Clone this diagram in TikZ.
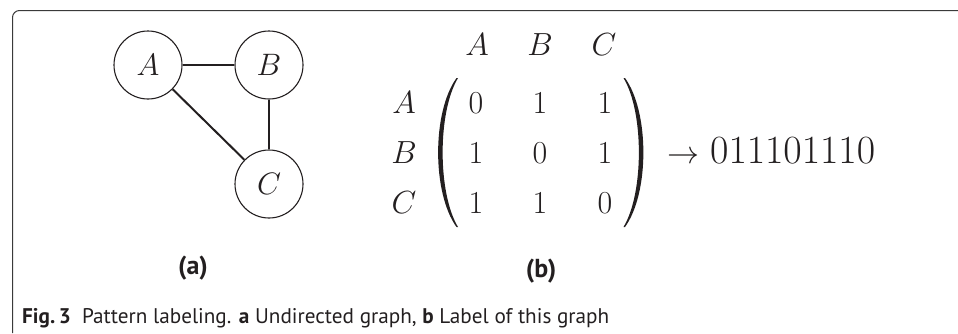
\documentclass[tikz,border=0pt]{standalone}
\usepackage{fix-cm}
\usepackage{fontspec}
\newfontfamily\capfont{PT Sans}
\definecolor{ink}{HTML}{231F20}
\definecolor{framegray}{HTML}{3A3A3A}
\tikzset{
  vertex/.style={circle, draw=ink, line width=1.1pt, minimum size=68pt, inner sep=0pt, font=\fontsize{31}{37}\selectfont, text=ink},
  edge/.style={draw=ink, line width=2pt},
  mat/.style={anchor=base, inner sep=0pt, text=ink, font=\fontsize{32}{38}\selectfont},
  parenfill/.style={fill=ink, draw=none},
  sublabel/.style={inner sep=0pt, text=ink, font=\capfont\bfseries\fontsize{26}{30}\selectfont},
  caption/.style={anchor=base west, inner sep=0pt, text=ink, font=\capfont\fontsize{21.2}{25}\selectfont},
  frameline/.style={draw=framegray, line width=1pt, rounded corners=7pt}
}
\begin{document}
\begin{tikzpicture}[x=1pt,y=-1pt]
\useasboundingbox (0,0) rectangle (958,333);
% frame
\coordinate (fr1) at (958,10.5);
\coordinate (fr2) at (12.5,10.5);
\coordinate (fr3) at (12.5,333);
\draw[frameline] (fr1) -- (fr2) -- (fr3);
% graph (a)
\node[vertex] (A) at (148,65) {$A$};
\node[vertex] (B) at (269,65) {$B$};
\node[vertex] (C) at (269,184) {$C$};
\draw[edge] (A) -- (B);
\draw[edge] (B) -- (C);
\draw[edge] (A) -- (C);
\node[sublabel] (la) at (193,268) {(a)};
% matrix (b)
\node[mat] (hA) at (477,55) {$A$};
\node[mat] (hB) at (540,55) {$B$};
\node[mat] (hC) at (604,55) {$C$};
\node[mat] (rA) at (404,113) {$A$};
\node[mat] (rB) at (404,163) {$B$};
\node[mat] (rC) at (404,213) {$C$};
\node[mat] (m11) at (476,113) {$0$};
\node[mat] (m12) at (540,113) {$1$};
\node[mat] (m13) at (605,113) {$1$};
\node[mat] (m21) at (476,163) {$1$};
\node[mat] (m22) at (540,163) {$0$};
\node[mat] (m23) at (605,163) {$1$};
\node[mat] (m31) at (476,213) {$1$};
\node[mat] (m32) at (540,213) {$1$};
\node[mat] (m33) at (605,213) {$0$};
% parentheses
\fill[parenfill] (456.5,78) .. controls (432,112) and (432,193) .. (456.5,227)
  -- (458,227) .. controls (437.5,193) and (437.5,112) .. (458,78) -- cycle;
\fill[parenfill] (625,78) .. controls (649.5,112) and (649.5,193) .. (625,227)
  -- (623.5,227) .. controls (644,193) and (644,112) .. (623.5,78) -- cycle;
\node[mat] (arr) at (683,163) {$\rightarrow$};
\node[anchor=base west, inner sep=0pt, text=ink, font=\fontsize{40}{46}\selectfont] (code) at (710,163) {$011101110$};
\node[sublabel] (lb) at (541,271) {(b)};
% caption
\node[caption] (cap) at (22,323) {\textbf{Fig.\,3}\ \ Pattern labeling. \textbf{a} Undirected graph, \textbf{b} Label of this graph};
\end{tikzpicture}
\end{document}
